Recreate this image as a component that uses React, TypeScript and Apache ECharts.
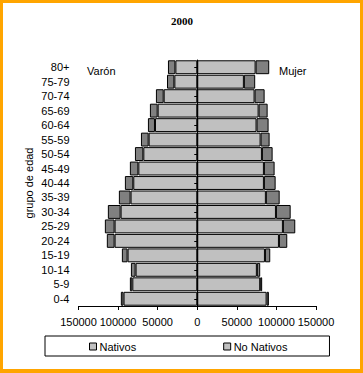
import React, { useEffect, useRef } from "react";
import * as echarts from "echarts";

const categories = ["0-4", "5-9", "10-14", "15-19", "20-24", "25-29", "30-34", "35-39", "40-44", "45-49", "50-54", "55-59", "60-64", "65-69", "70-74", "75-79", "80+"];
const varonNativos = [93100, 82000, 77900, 88000, 104400, 104400, 96800, 84200, 80800, 74400, 68100, 61400, 53400, 50000, 42400, 28900, 27600];
const varonNoNativos = [3400, 3100, 5900, 7200, 9800, 12300, 16100, 14800, 10600, 10700, 10600, 9700, 8900, 9800, 9800, 9300, 9400];
const mujerNativos = [87600, 79500, 75300, 85500, 103200, 108200, 99400, 86700, 84200, 84200, 81700, 80000, 74900, 77500, 72400, 58900, 73700];
const mujerNoNativos = [2900, 2500, 4200, 6700, 10500, 15600, 18600, 17400, 14800, 13500, 13500, 11400, 15200, 11400, 12700, 14300, 17200];
const xTicks = { min: -150000, max: 150000, interval: 50000 };

const FONT = "'Liberation Sans', Arial, sans-serif";

export default function App() {
  const ref = useRef<HTMLDivElement>(null);
  useEffect(() => {
    document.body.style.margin = "0";
    const chart = echarts.init(ref.current!, null, { renderer: "svg" });
    const barBase = {
      type: "bar",
      stack: "all",
      barCategoryGap: "4%",
      yAxisIndex: 0,
      itemStyle: { borderColor: "#000", borderWidth: 1 },
    };
    chart.setOption({
      animation: false,
      backgroundColor: "#fff",
      title: {
        text: "2000",
        left: 166,
        top: 10,
        textStyle: { fontFamily: "'Liberation Serif', 'Times New Roman', serif", fontWeight: "bold", fontSize: 11, color: "#000" },
      },
      grid: { left: 78.5, right: 47, top: 60, bottom: 67, containLabel: false, outerBoundsMode: "none" },
      legend: {
        left: 45,
        top: 336,
        orient: "horizontal",
        backgroundColor: "#fff",
        borderColor: "#000",
        borderWidth: 1,
        borderRadius: 0,
        padding: [5, 42, 4, 44],
        itemGap: 87,
        itemWidth: 7,
        itemHeight: 7,
        icon: "rect",
        textStyle: { fontFamily: FONT, fontSize: 11, color: "#000", padding: [0, 0, 0, -2] },
        data: [
          { name: "Nativos", itemStyle: { color: "#C0C0C0", borderColor: "#000", borderWidth: 1 } },
          { name: "No Nativos", itemStyle: { color: "#C0C0C0", borderColor: "#000", borderWidth: 1 } },
        ],
      },
      xAxis: {
        type: "value",
        min: xTicks.min,
        max: xTicks.max,
        interval: xTicks.interval,
        splitLine: { show: false },
        axisLine: { show: true, onZero: false, lineStyle: { color: "#000", width: 1 } },
        axisTick: { show: true, length: 4, lineStyle: { color: "#000" } },
        axisLabel: {
          fontFamily: FONT,
          fontSize: 11,
          color: "#000",
          margin: 10,
          formatter: (v: number) => String(Math.abs(v)),
        },
      },
      yAxis: [
        {
          type: "category",
          data: categories,
          position: "left",
          name: "grupo de edad",
          nameLocation: "middle",
          nameGap: 44,
          nameRotate: 90,
          nameMoveOverlap: false,
          nameTextStyle: { fontFamily: FONT, fontSize: 11, color: "#000" },
          axisLine: { show: false, onZero: false },
          axisTick: { show: false },
          axisLabel: { fontFamily: FONT, fontSize: 11, color: "#000", margin: 9 },
        },
        {
          type: "category",
          data: categories,
          position: "right",
          z: 10,
          axisLine: { show: true, onZero: true, lineStyle: { color: "#000", width: 1 } },
          axisTick: { show: true, inside: true, length: 3, alignWithLabel: true, lineStyle: { color: "#000" } },
          axisLabel: { show: false },
          splitLine: { show: false },
        },
      ],
      series: [
        { ...barBase, name: "Nativos", data: varonNativos.map((v) => -v), itemStyle: { ...barBase.itemStyle, color: "#C0C0C0" } },
        { ...barBase, name: "No Nativos", data: varonNoNativos.map((v) => -v), itemStyle: { ...barBase.itemStyle, color: "#808080" } },
        { ...barBase, name: "Nativos", data: mujerNativos, itemStyle: { ...barBase.itemStyle, color: "#C0C0C0" } },
        { ...barBase, name: "No Nativos", data: mujerNoNativos, itemStyle: { ...barBase.itemStyle, color: "#808080" } },
      ],
      graphic: [
        { type: "text", left: 87, top: 65, style: { text: "Varón", font: `11px ${FONT}`, fill: "#000" } },
        { type: "text", left: 279, top: 65, style: { text: "Mujer", font: `11px ${FONT}`, fill: "#000" } },
      ],
    });
    return () => chart.dispose();
  }, []);
  return (
    <div style={{ position: "absolute", left: 0, top: 0, width: 363, height: 373 }}>
      <div ref={ref} style={{ position: "absolute", left: 0, top: 0, width: 363, height: 373 }} />
      <div
        style={{
          position: "absolute",
          left: 0,
          top: 0,
          width: 363,
          height: 373,
          boxSizing: "border-box",
          borderStyle: "solid",
          borderColor: "#FFA500",
          borderWidth: "3px 3px 4px 3px",
          pointerEvents: "none",
        }}
      />
    </div>
  );
}
